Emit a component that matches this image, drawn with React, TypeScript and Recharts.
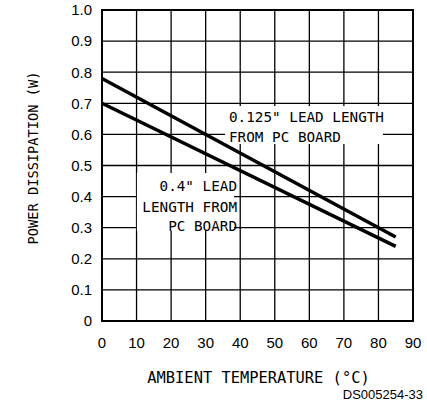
import React from 'react';
import { LineChart, Line, XAxis, YAxis, CartesianGrid, ReferenceArea } from 'recharts';

const temperatures = [0, 85];
const lead0125 = [0.78, 0.27];
const lead04 = [0.7, 0.24];
const xTicks = [0, 10, 20, 30, 40, 50, 60, 70, 80, 90];
const yTicks = [0, 0.1, 0.2, 0.3, 0.4, 0.5, 0.6, 0.7, 0.8, 0.9, 1.0];

const data = temperatures.map((t, i) => ({ t, a: lead0125[i], b: lead04[i] }));

const MONO = '"DejaVu Sans Mono", "Liberation Mono", monospace';
const SANS = '"Liberation Sans", Arial, sans-serif';

const XTitle = (props: any) => {
  const vb = props.viewBox;
  return (
    <g>
      <text x={vb.x + vb.width / 2 + 1} y={vb.y + 62} textAnchor="middle" fontFamily={MONO} fontSize={15.4} fill="#000">
        AMBIENT TEMPERATURE (°C)
      </text>
      <text x={423} y={vb.y + 78} textAnchor="end" fontFamily={SANS} fontSize={13} fill="#000">
        DS005254-33
      </text>
    </g>
  );
};

const YTitle = (props: any) => {
  const vb = props.viewBox;
  const cx = vb.x + 33;
  const cy = vb.y + vb.height / 2 - 7.5;
  return (
    <text x={cx} y={cy} transform={`rotate(-90 ${cx} ${cy})`} textAnchor="middle" dominantBaseline="central" fontFamily={MONO} fontSize={13.7} fill="#000">
      POWER DISSIPATION (W)
    </text>
  );
};

const Label1 = (props: any) => {
  const vb = props.viewBox;
  return (
    <g fontFamily={MONO} fontSize={14.3} fill="#000">
      <text x={vb.x + 4} y={vb.y + 16}>0.125" LEAD LENGTH</text>
      <text x={vb.x + 4} y={vb.y + 35.5}>FROM PC BOARD</text>
    </g>
  );
};

const Label2 = (props: any) => {
  const vb = props.viewBox;
  const rx = vb.x + vb.width + 3;
  return (
    <g fontFamily={MONO} fontSize={14.3} fill="#000">
      <text x={rx} y={vb.y + 18} textAnchor="end">0.4" LEAD</text>
      <text x={rx} y={vb.y + 39} textAnchor="end">LENGTH FROM</text>
      <text x={rx} y={vb.y + 58} textAnchor="end">PC BOARD</text>
    </g>
  );
};

export default function App() {
  return (
    <div style={{ position: 'absolute', left: 0, top: 0, width: 427, height: 415, background: '#fff' }}>
      <LineChart width={427} height={415} data={data} margin={{ top: 10, right: 14, bottom: 0, left: 0 }}>
        <CartesianGrid stroke="#000" strokeWidth={1.3} />
        <XAxis
          type="number"
          dataKey="t"
          domain={[0, 90]}
          ticks={xTicks}
          height={94}
          tickLine={false}
          axisLine={false}
          tickSize={16}
          tickMargin={0}
          tick={{ fill: '#000', fontSize: 15, fontFamily: SANS }}
          label={XTitle}
        />
        <YAxis
          type="number"
          domain={[0, 1]}
          ticks={yTicks}
          width={102}
          tickLine={false}
          axisLine={false}
          tickSize={10}
          tickMargin={0}
          tick={{ fill: '#000', fontSize: 15, fontFamily: SANS }}
          tickFormatter={(v: number) => (v === 0 ? '0' : v.toFixed(1))}
          label={YTitle}
        />
        <ReferenceArea x1={35.6} x2={81.3} y1={0.569} y2={0.691} fill="#fff" fillOpacity={1} stroke="none" label={Label1} />
        <ReferenceArea x1={10.1} x2={38.2} y1={0.29} y2={0.476} fill="#fff" fillOpacity={1} stroke="none" label={Label2} />
        <ReferenceArea x1={0} x2={90} y1={0} y2={1} fill="none" stroke="#000" strokeWidth={2} />
        <Line dataKey="a" stroke="#000" strokeWidth={3.5} dot={false} isAnimationActive={false} />
        <Line dataKey="b" stroke="#000" strokeWidth={3.5} dot={false} isAnimationActive={false} />
      </LineChart>
    </div>
  );
}
